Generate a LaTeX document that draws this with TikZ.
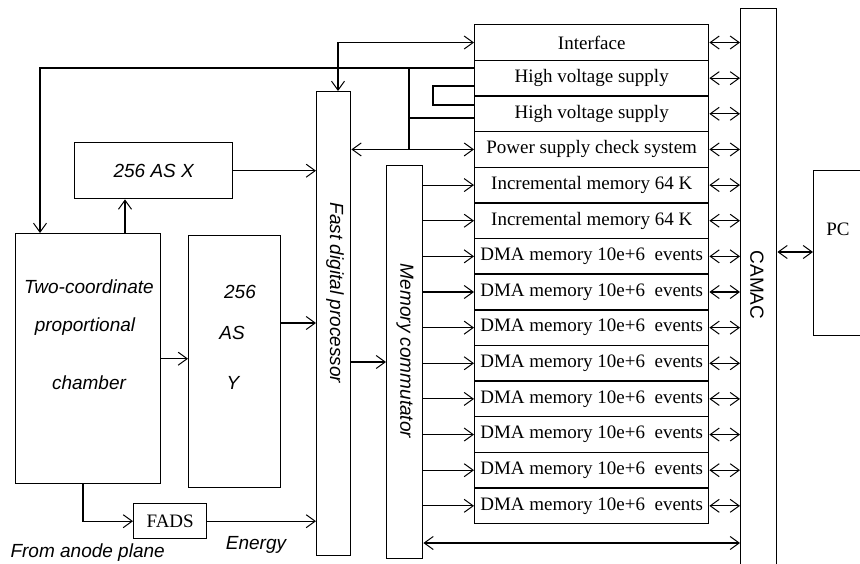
\documentclass[tikz,border=0pt]{standalone}
\usepackage{fontspec}
\setmainfont{Liberation Serif}
\setsansfont{Liberation Sans}
\usetikzlibrary{arrows.meta}
\begin{document}
\begin{tikzpicture}[x=1pt,y=-1pt,
  line width=1.1pt,
  >={Straight Barb[length=9pt,width=13pt,line width=1pt]},
  box/.style={draw, line width=1.4pt, inner sep=0pt, anchor=north west},
  serif/.style={font=\fontsize{19}{21}\selectfont},
  isans/.style={font=\fontsize{19}{21}\selectfont\sffamily\itshape, inner sep=0pt},
  usans/.style={font=\fontsize{19}{21}\selectfont\sffamily, inner sep=0pt}]
\useasboundingbox (0,0) rectangle (860,564);

% left blocks
\node[box, minimum width=145pt, minimum height=250pt] (ch) at (15,233) {};
\node[isans] (cht1) at (89,287) {Two-coordinate};
\node[isans] (cht2) at (85,327) {proportional};
\node[isans] (cht3) at (89,383) {chamber};

\node[box, minimum width=158pt, minimum height=56pt, isans] (asx) at (74,142) {256 AS X};

\node[box, minimum width=92pt, minimum height=252pt] (asy) at (188,235) {};
\node[isans] (asyt1) at (240,292) {256};
\node[isans] (asyt2) at (232,333) {AS};
\node[isans] (asyt3) at (233,383) {Y};

\node[box, minimum width=73pt, minimum height=35pt, serif] (fads) at (133,503) {FADS};

% processor and commutator
\node[box, minimum width=34pt, minimum height=464pt] (fdp) at (316,91) {};
\node[isans, rotate=-90] (fdpt) at (335,293) {Fast digital processor};
\node[box, minimum width=36pt, minimum height=393pt] (mc) at (386,165) {};
\node[isans, rotate=-90] (mct) at (405,351) {Memory commutator};

% stack
\foreach \i/\t in {1/Interface, 2/High voltage supply, 3/High voltage supply,
  4/Power supply check system, 5/Incremental memory 64 K, 6/Incremental memory 64 K,
  7/DMA memory 10e+6~ events, 8/DMA memory 10e+6~ events, 9/DMA memory 10e+6~ events,
  10/DMA memory 10e+6~ events, 11/DMA memory 10e+6~ events, 12/DMA memory 10e+6~ events,
  13/DMA memory 10e+6~ events, 14/DMA memory 10e+6~ events}
  \node[box, serif, minimum width=234pt, minimum height=35.64pt] (r\i) at (474,{24+35.64*(\i-1)}) {\t};

% CAMAC and PC
\node[box, minimum width=36pt, minimum height=590pt] (camac) at (740,8) {};
\node[usans, rotate=-90] (camact) at (757,285) {CAMAC};
\node[box, minimum width=70pt, minimum height=165pt] (pc) at (813,170) {};
\node[serif, inner sep=0pt] (pct) at (838,229) {PC};

% helper coordinates
\coordinate (t1) at (40,68);
\coordinate (b1) at (409,68);
\coordinate (b3) at (409,118);
\coordinate (l1) at (433,86);
\coordinate (l2) at (433,105);
\coordinate (i1) at (338,40);
\coordinate (u1) at (125,0);
\coordinate (d1) at (83,0);
\coordinate (yy) at (0,323);
\coordinate (yc) at (0,252);
\coordinate (yb) at (0,543);
\coordinate (yf) at (0,362);

% connectors
\draw[->] (r2.west |- t1) -| (ch.north -| t1);
\draw (b1) -- (b1 |- r4.west);
\draw (b3) -- (r3.west |- b3);
\draw (r2.west |- l1) -- (l1) -- (l2) -- (r3.west |- l2);
\draw[<->] (fdp.east |- r4.west) -- (r4.west);
\draw[<->] (fdp.north -| i1) |- (r1.west);
\draw[->] (asx.east) -- (fdp.west |- asx.east);
\draw[->] (ch.north -| u1) -- (asx.south -| u1);
\draw[->] (ch.east) -- (asy.west |- ch.east);
\draw[->] (asy.east |- yy) -- (fdp.west |- yy);
\draw[->] (fdp.east |- yf) -- (mc.west |- yf);
\draw[->] (ch.south -| d1) |- (fads.west);
\draw[->] (fads.east) -- (fdp.west |- fads.east);
\foreach \i in {5,...,14}
  \draw[->] (mc.east |- r\i.west) -- (r\i.west);
\foreach \i in {1,...,14}
  \draw[<->] (r\i.east) -- (camac.west |- r\i.east);
\draw[<->] (camac.east |- yc) -- (pc.west |- yc);
\draw[<->] (mc.east |- yb) -- (camac.west |- yb);

% labels
\node[isans, anchor=west] (anode) at (10,553) {From anode plane};
\node[isans] (energy) at (256,545) {Energy};
\end{tikzpicture}
\end{document}
